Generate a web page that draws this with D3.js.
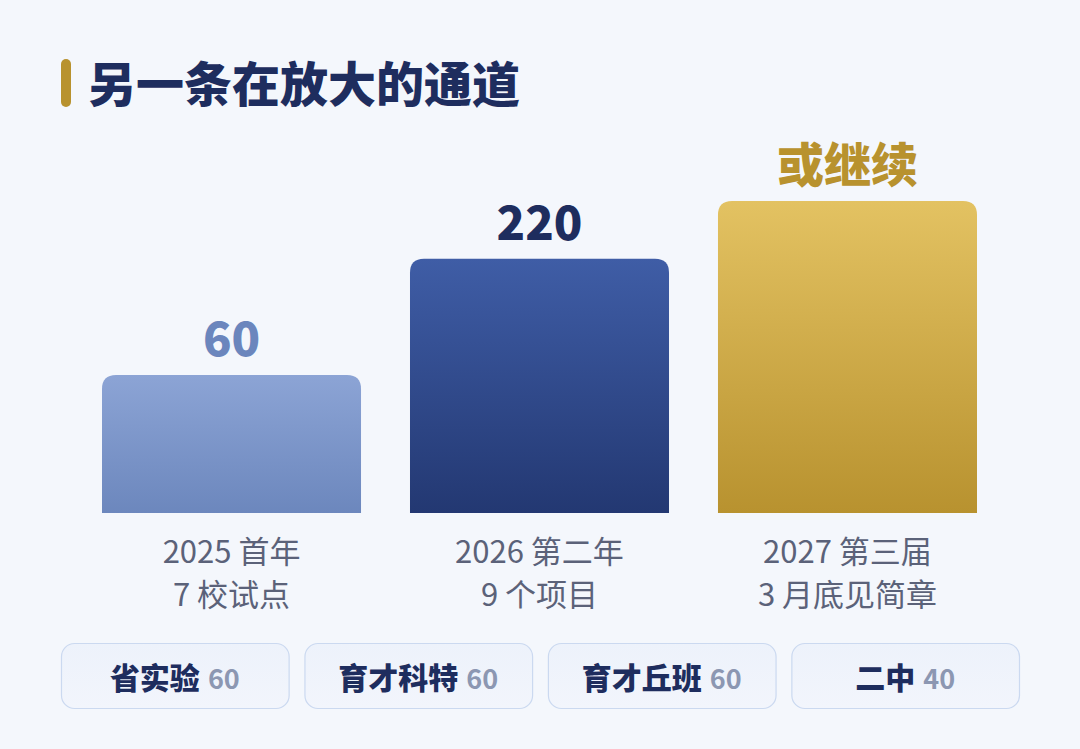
<!DOCTYPE html>
<html>
<head>
<meta charset="utf-8">
<script src="https://cdn.jsdelivr.net/npm/d3@7"></script>
<style>
  html, body { margin: 0; padding: 0; background: #f4f7fc; }
  svg { display: block; font-family: "Noto Sans CJK SC", "Noto Sans", sans-serif; }
</style>
</head>
<body>
<script>
// chart data
var years = ["2025", "2026", "2027"];
var values = [60, 220, 340];           // 2027 has no figure yet, bar drawn as the tallest
var valueLabels = ["60", "220", "或继续"];
var line1 = ["2025 首年", "2026 第二年", "2027 第三届"];
var line2 = ["7 校试点", "9 个项目", "3 月底见简章"];
var schools = ["省实验", "育才科特", "育才丘班", "二中"];
var schoolCounts = [60, 60, 60, 40];

var width = 1080, height = 749;
var baseline = 513;

var svg = d3.select("body").append("svg")
    .attr("width", width)
    .attr("height", height);

var defs = svg.append("defs");
var grads = [
    ["g0", "#8ca4d5", "#6c87bd"],
    ["g1", "#3f5da6", "#233872"],
    ["g2", "#e3c262", "#b8922f"]
];
grads.forEach(function(g){
    var lg = defs.append("linearGradient")
        .attr("id", g[0])
        .attr("x1", 0).attr("y1", 0).attr("x2", 0).attr("y2", 1);
    lg.append("stop").attr("offset", "0%").attr("stop-color", g[1]);
    lg.append("stop").attr("offset", "100%").attr("stop-color", g[2]);
});
var pillGrad = defs.append("linearGradient")
    .attr("id", "pill")
    .attr("x1", 0).attr("y1", 0).attr("x2", 0).attr("y2", 1);
pillGrad.append("stop").attr("offset", "0%").attr("stop-color", "#edf2fb");
pillGrad.append("stop").attr("offset", "100%").attr("stop-color", "#f2f5fc");

svg.append("rect")
    .attr("width", width).attr("height", height)
    .attr("fill", "#f4f7fc");

// title
svg.append("rect")
    .attr("x", 61).attr("y", 59)
    .attr("width", 10).attr("height", 48)
    .attr("rx", 5)
    .attr("fill", "#b8922e");
svg.append("text")
    .attr("x", 88).attr("y", 102)
    .attr("font-size", 48)
    .attr("font-weight", 900)
    .attr("fill", "#1e2d5e")
    .text("另一条在放大的通道");

// scales
var x = d3.scaleBand()
    .domain(years)
    .range([102, 977])
    .paddingInner(0.159)
    .paddingOuter(0);

var y = d3.scalePow()
    .exponent(0.47)
    .domain([0, 340])
    .range([baseline, 201]);

// bar path with rounded top corners only
function barPath(x0, y0, w, h, r){
    return "M" + x0 + "," + (y0 + h) +
        "V" + (y0 + r) +
        "Q" + x0 + "," + y0 + " " + (x0 + r) + "," + y0 +
        "H" + (x0 + w - r) +
        "Q" + (x0 + w) + "," + y0 + " " + (x0 + w) + "," + (y0 + r) +
        "V" + (y0 + h) + "Z";
}

var bars = svg.selectAll(".bar")
    .data(years)
    .enter()
    .append("path")
    .attr("class", "bar")
    .attr("d", function(d, i){
        return barPath(x(d), y(values[i]), x.bandwidth(), baseline - y(values[i]), 14);
    })
    .attr("fill", function(d, i){ return "url(#g" + i + ")"; });

var labelColors = ["#6b86bd", "#1e2d5e", "#b8922e"];
svg.selectAll(".val")
    .data(years)
    .enter()
    .append("text")
    .attr("class", "val")
    .attr("x", function(d){ return x(d) + x.bandwidth() / 2; })
    .attr("y", function(d, i){ return y(values[i]) - 19; })
    .attr("text-anchor", "middle")
    .attr("font-size", 47)
    .attr("font-weight", 900)
    .attr("fill", function(d, i){ return labelColors[i]; })
    .text(function(d, i){ return valueLabels[i]; });

// category labels
var cat = svg.selectAll(".cat")
    .data(years)
    .enter()
    .append("text")
    .attr("class", "cat")
    .attr("text-anchor", "middle")
    .attr("font-size", 31)
    .attr("fill", "#5b6279");
cat.append("tspan")
    .attr("x", function(d){ return x(d) + x.bandwidth() / 2; })
    .attr("y", 563)
    .text(function(d, i){ return line1[i]; });
cat.append("tspan")
    .attr("x", function(d){ return x(d) + x.bandwidth() / 2; })
    .attr("y", 606)
    .text(function(d, i){ return line2[i]; });

// school pills
var px = d3.scaleBand()
    .domain(schools)
    .range([61, 1019])
    .paddingInner(0.065)
    .paddingOuter(0);

var pills = svg.selectAll(".pill")
    .data(schools)
    .enter()
    .append("g")
    .attr("class", "pill");
pills.append("rect")
    .attr("x", function(d){ return px(d) + 0.5; })
    .attr("y", 643.5)
    .attr("width", px.bandwidth())
    .attr("height", 65)
    .attr("rx", 13)
    .attr("fill", "url(#pill)")
    .attr("stroke", "#cbd9f0")
    .attr("stroke-width", 1.2);
var pt = pills.append("text")
    .attr("x", function(d){ return px(d) + px.bandwidth() / 2; })
    .attr("y", 689)
    .attr("text-anchor", "middle")
    .attr("font-weight", 900);
pt.append("tspan")
    .attr("font-size", 30)
    .attr("fill", "#1e2d5e")
    .text(function(d){ return d; });
pt.append("tspan")
    .attr("font-size", 27)
    .attr("font-weight", 700)
    .attr("fill", "#8c97b2")
    .attr("dx", 8)
    .text(function(d, i){ return schoolCounts[i]; });
</script>
</body>
</html>
